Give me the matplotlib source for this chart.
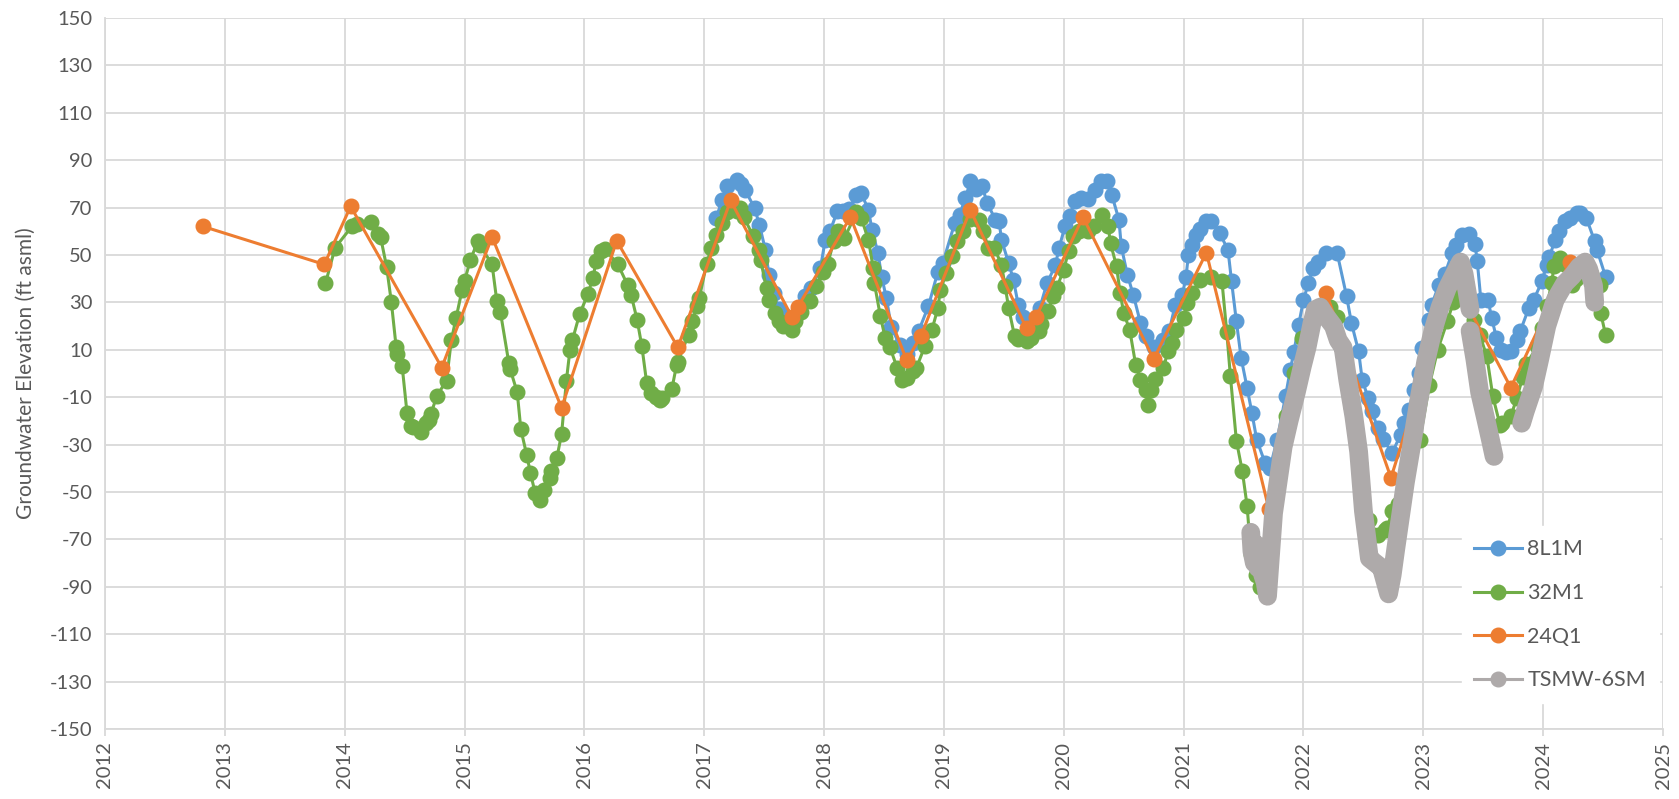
import matplotlib.pyplot as plt
import numpy as np

plt.rcParams['font.family'] = ['Lato', 'DejaVu Sans']
plt.rcParams['axes.unicode_minus'] = False

# 8L1M (decimal year, ft asml)
t_8l1m = [2017.10, 2017.15, 2017.19, 2017.27, 2017.31, 2017.34, 2017.42, 2017.46, 2017.51, 2017.54,
          2017.58, 2017.62, 2017.66, 2017.72, 2017.78, 2017.84, 2017.89, 2017.97, 2018.01, 2018.05,
          2018.11, 2018.16, 2018.21, 2018.27, 2018.31, 2018.37, 2018.40, 2018.45, 2018.48, 2018.52,
          2018.56, 2018.63, 2018.69, 2018.74, 2018.79, 2018.87, 2018.95, 2018.99, 2019.09, 2019.13,
          2019.18, 2019.22, 2019.27, 2019.32, 2019.36, 2019.43, 2019.46, 2019.48, 2019.54, 2019.58,
          2019.62, 2019.66, 2019.72, 2019.80, 2019.86, 2019.93, 2019.96, 2020.01, 2020.05, 2020.09,
          2020.14, 2020.20, 2020.26, 2020.31, 2020.36, 2020.40, 2020.46, 2020.48, 2020.53, 2020.58,
          2020.64, 2020.69, 2020.75, 2020.83, 2020.88, 2020.93, 2020.99, 2021.02, 2021.04, 2021.07,
          2021.10, 2021.14, 2021.19, 2021.23, 2021.30, 2021.37, 2021.40, 2021.44, 2021.48, 2021.53,
          2021.57, 2021.61, 2021.68, 2021.72, 2021.78, 2021.85, 2021.89, 2021.92, 2021.96, 2022.00,
          2022.04, 2022.08, 2022.12, 2022.19, 2022.28, 2022.36, 2022.40, 2022.46, 2022.49, 2022.54,
          2022.57, 2022.62, 2022.66, 2022.74, 2022.81, 2022.84, 2022.88, 2022.92, 2022.96, 2022.99,
          2023.05, 2023.07, 2023.13, 2023.18, 2023.24, 2023.27, 2023.32, 2023.38, 2023.43, 2023.45,
          2023.48, 2023.54, 2023.57, 2023.61, 2023.65, 2023.69, 2023.73, 2023.78, 2023.81, 2023.88,
          2023.92, 2023.99, 2024.03, 2024.05, 2024.10, 2024.13, 2024.18, 2024.22, 2024.28, 2024.31,
          2024.36, 2024.43, 2024.45, 2024.52]
v_8l1m = [65.6, 73.3, 79, 81.7, 80, 77.5, 69.8, 62.8, 52.2, 41.7,
          34, 27, 25, 22, 26, 32.5, 36, 44.5, 56.4, 60,
          68.4, 68.5, 69.5, 75.4, 76, 69.1, 60.6, 50.8, 40.9, 31.8,
          19.8, 12, 8, 13, 18, 28.3, 43, 46.5, 63.4, 67,
          74, 81, 78, 79, 71.9, 64.9, 64.5, 56.4, 46.6, 39.5,
          29, 24, 20, 27.6, 38.1, 45.6, 52.9, 62, 66.5, 72.6,
          74, 73.5, 77.5, 81, 81, 75.4, 64.9, 53.6, 41.7, 33.2,
          21.3, 16, 11, 14.2, 18, 29, 33.2, 40.9, 50, 54,
          58.5, 61, 64.2, 64.5, 59.2, 52.2, 38.8, 22, 6.5, -6.2,
          -16.7, -28, -37.8, -40, -28, -9.7, 1.6, 9, 20.6, 31,
          38, 44.5, 47, 50.8, 51, 32.5, 21.3, 9.3, -2.7, -10.4,
          -16, -23, -27.5, -33.6, -25.8, -21, -15.3, -6.9, 0, 10.7,
          22.7, 29, 37.4, 42, 50.8, 54, 58.5, 59, 54.8, 47.3,
          31, 31.1, 23.4, 15, 10, 9, 9.5, 14.2, 18, 27.6,
          31, 38.8, 45.9, 49, 56.4, 60, 64.2, 65.5, 67.7, 67.5,
          65.6, 55.7, 52, 40.9]

# 32M1
t_32m1 = [2013.84, 2013.92, 2014.06, 2014.10, 2014.22, 2014.28, 2014.30, 2014.35, 2014.39, 2014.43,
          2014.44, 2014.48, 2014.52, 2014.55, 2014.57, 2014.64, 2014.68, 2014.70, 2014.72, 2014.77,
          2014.85, 2014.89, 2014.93, 2014.98, 2015.00, 2015.05, 2015.11, 2015.13, 2015.23, 2015.27,
          2015.30, 2015.37, 2015.38, 2015.44, 2015.47, 2015.52, 2015.55, 2015.59, 2015.63, 2015.66,
          2015.71, 2015.72, 2015.77, 2015.81, 2015.85, 2015.88, 2015.90, 2015.96, 2016.03, 2016.07,
          2016.10, 2016.14, 2016.17, 2016.28, 2016.36, 2016.39, 2016.44, 2016.48, 2016.52, 2016.56,
          2016.60, 2016.63, 2016.65, 2016.73, 2016.77, 2016.78, 2016.87, 2016.90, 2016.94, 2016.96,
          2017.02, 2017.06, 2017.10, 2017.15, 2017.19, 2017.27, 2017.30, 2017.33, 2017.41, 2017.46,
          2017.47, 2017.52, 2017.54, 2017.59, 2017.62, 2017.66, 2017.73, 2017.76, 2017.81, 2017.88,
          2017.93, 2017.99, 2018.03, 2018.08, 2018.12, 2018.17, 2018.27, 2018.31, 2018.37, 2018.41,
          2018.42, 2018.47, 2018.51, 2018.55, 2018.61, 2018.65, 2018.69, 2018.74, 2018.77, 2018.84,
          2018.90, 2018.95, 2018.97, 2019.02, 2019.07, 2019.11, 2019.16, 2019.22, 2019.29, 2019.33,
          2019.37, 2019.42, 2019.48, 2019.51, 2019.54, 2019.59, 2019.62, 2019.69, 2019.73, 2019.79,
          2019.81, 2019.87, 2019.91, 2019.94, 2020.00, 2020.04, 2020.08, 2020.13, 2020.20, 2020.25,
          2020.32, 2020.37, 2020.39, 2020.44, 2020.47, 2020.50, 2020.55, 2020.60, 2020.64, 2020.69,
          2020.70, 2020.73, 2020.76, 2020.83, 2020.87, 2020.90, 2020.94, 2021.00, 2021.03, 2021.07,
          2021.14, 2021.23, 2021.32, 2021.36, 2021.39, 2021.44, 2021.49, 2021.53, 2021.56, 2021.60,
          2021.64, 2021.72, 2021.78, 2021.85, 2021.92, 2021.99, 2022.06, 2022.15, 2022.22, 2022.28,
          2022.34, 2022.40, 2022.47, 2022.55, 2022.62, 2022.68, 2022.70, 2022.74, 2022.79, 2022.85,
          2022.97, 2023.05, 2023.12, 2023.20, 2023.25, 2023.30, 2023.36, 2023.42, 2023.47, 2023.53,
          2023.58, 2023.64, 2023.66, 2023.73, 2023.78, 2023.83, 2023.86, 2023.95, 2023.99, 2024.03,
          2024.07, 2024.09, 2024.14, 2024.17, 2024.24, 2024.27, 2024.33, 2024.40, 2024.47, 2024.48,
          2024.52]
v_32m1 = [38, 53, 62, 63, 64, 59, 57.5, 45, 30, 11,
          8, 3, -16.5, -22, -22.5, -24.5, -21, -19.5, -17, -9.4,
          -3, 14, 23.4, 35.3, 39, 48, 55.7, 54, 46, 30.4,
          25.8, 4.4, 2, -8, -23.5, -34.6, -42, -50.5, -53.3, -49,
          -44, -41, -35.7, -25.6, -3, 10, 14, 25, 33.5, 40.3,
          47.3, 51.5, 52.5, 46, 37.4, 33.2, 22.7, 11.4, -4, -8.3,
          -10, -11, -10.5, -6.6, 3.7, 5, 16.4, 22, 28.3, 32,
          46.3, 53, 58.5, 63.4, 68, 68.4, 70, 66, 57.8, 52.2,
          48, 36, 31, 25.5, 22, 20, 18.4, 22, 26, 30.4,
          37, 42.6, 46, 55.7, 60, 57, 68, 65.6, 56.4, 44.5,
          38, 24.1, 15, 11, 2.3, -2.7, -2, 1, 2.3, 11.4,
          18.4, 27.6, 35.3, 42.3, 49.4, 55.7, 60, 65, 64.9, 60,
          52.9, 53, 45.9, 37.1, 27.6, 15.6, 14.5, 13.5, 15, 17.7,
          21, 26.2, 32.5, 36, 43.8, 51.5, 57.8, 60, 60, 62,
          67, 62, 55, 45.2, 34, 25.5, 18.4, 3.7, -2.7, -7,
          -13.2, -7, -2.5, 2.3, 9.3, 13, 18.4, 23.4, 29.7, 34,
          39.5, 40.5, 38.8, 17.3, -1, -28.3, -41.3, -56, -76, -85,
          -90, -70, -45, -18, 0, 15, 22, 27, 28, 24,
          8, -14, -38, -62, -68, -66, -65, -58, -55, -45,
          -28, -5, 10, 22, 30, 35, 38, 22.7, 16.4, 7.2,
          -9.7, -21.8, -21, -18, -10.4, -1.3, 4, 11.4, 19.2, 28.3,
          38, 45.2, 48.7, 46, 37.4, 40, 44, 42, 37.4, 25.5,
          16.4]

# 24Q1
t_24q1 = [2012.82, 2013.83, 2014.05, 2014.81, 2015.23, 2015.81, 2016.27, 2016.78, 2017.22, 2017.73,
          2017.78, 2018.22, 2018.69, 2018.81, 2019.22, 2019.69, 2019.77, 2020.16, 2020.75, 2021.19,
          2021.71, 2022.19, 2022.73, 2023.25, 2023.73, 2024.22]
v_24q1 = [62, 46, 70.5, 2.5, 57.6, -14.5, 56, 11, 73, 24,
          28, 66, 5.5, 16, 69, 19, 24, 66, 6, 51,
          -57, 34, -44, 40, -6, 47]

# TSMW-6SM (NaN = gap in record)
t_tsmw = [2021.56, 2021.57, 2021.59, 2021.60, 2021.62, 2021.64, 2021.66, 2021.68, 2021.70, 2021.72,
          2021.75, 2021.79, 2021.83, 2021.88, 2021.94, 2021.99, 2022.03, 2022.07, 2022.10, 2022.14,
          2022.19, 2022.25, 2022.29, 2022.33, 2022.37, 2022.42, 2022.46, 2022.50, 2022.55, 2022.60,
          2022.65, 2022.71, 2022.74, 2022.77, 2022.81, 2022.85, 2022.90, 2022.96, 2023.02, 2023.08,
          2023.14, 2023.20, 2023.25, 2023.31, 2023.34, 2023.37, 2023.39, 2023.39, 2023.39, 2023.43,
          2023.47, 2023.52, 2023.56, 2023.59, 2023.70, 2023.82, 2023.85, 2023.92, 2023.97, 2024.03,
          2024.10, 2024.18, 2024.24, 2024.30, 2024.35, 2024.38, 2024.42, 2024.43]
v_tsmw = [-67, -75, -80, -72, -82, -78, -85, -88, -94, -80,
          -59, -45, -31, -20, -8, 3, 11, 21, 27, 28,
          24, 20, 14, 11, -3, -18, -33, -58, -78, -80,
          -82, -93, -85, -74, -60, -46, -31, -12, 5, 18,
          28, 36, 41, 47, 42, 33, 27, np.nan, 18, 6,
          -8, -19, -28, -35, np.nan, -21, -16, -5.5, 5.8, 20,
          31, 38, 41, 45, 47, 44, 37, 30]

years = np.arange(2012, 2026)
yticks = np.arange(-150, 151, 20)

c_blue = '#5B9BD5'
c_green = '#70AD47'
c_orange = '#ED7D31'
c_gray = '#AEAAAA'
txt = '#595959'
grid = '#D9D9D9'

fig = plt.figure(figsize=(16.79, 7.99), dpi=100)
ax = fig.add_axes([0.0625, 0.0876, 0.928, 0.89])

ax.plot(t_8l1m, v_8l1m, c=c_blue, lw=2.2, marker='o', ms=10.5, label='8L1M', zorder=3)
ax.plot(t_32m1, v_32m1, c=c_green, lw=2.2, marker='o', ms=10.5, label='32M1', zorder=4)
ax.plot(t_24q1, v_24q1, c=c_orange, lw=2.2, marker='o', ms=10.5, label='24Q1', zorder=5)
# dense daily record: overlapping markers read as one thick band
ax.plot(t_tsmw, v_tsmw, c=c_gray, lw=13.5, solid_capstyle='round', solid_joinstyle='round',
        zorder=6)
ax.plot([], [], c=c_gray, lw=2.2, marker='o', ms=10.5, label='TSMW-6SM')

ax.set_xlim(2012, 2025)
ax.set_ylim(-150, 150)
ax.set_xticks(years)
ax.set_xticklabels([str(y) for y in years], rotation=90)
ax.set_yticks(yticks)
ax.grid(True, color=grid, lw=1.3)
ax.set_axisbelow(True)
for s in ['top', 'right']:
    ax.spines[s].set_visible(False)
for s in ['left', 'bottom']:
    ax.spines[s].set_color(grid)
    ax.spines[s].set_linewidth(1.3)
ax.tick_params(axis='x', colors=txt, labelsize=14.5, length=5, width=1.3, color=grid, pad=4)
ax.tick_params(axis='y', colors=txt, labelsize=14.5, length=0, pad=9)
ax.set_ylabel('Groundwater Elevation (ft asml)', color=txt, fontsize=15, labelpad=10)

leg = ax.legend(loc='lower right', bbox_to_anchor=(1.0, 0.03), frameon=True, fontsize=15.5,
                handlelength=2.2, handletextpad=0.25, labelspacing=1.1, borderpad=0.6,
                borderaxespad=0.2)
leg.get_frame().set_edgecolor('white')
leg.get_frame().set_alpha(1)
for t in leg.get_texts():
    t.set_color(txt)

fig.savefig('out.png', dpi=100)
